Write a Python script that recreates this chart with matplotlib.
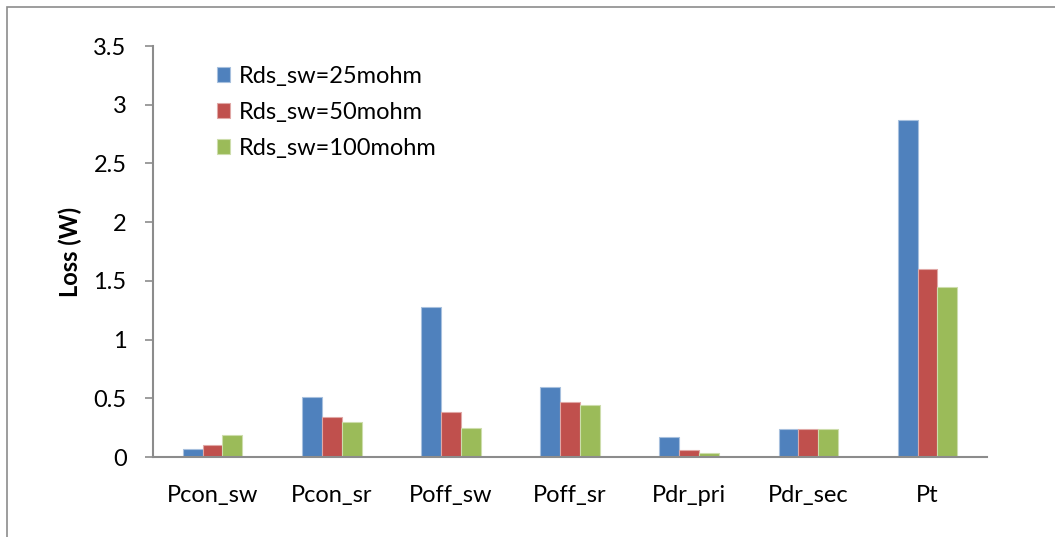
import matplotlib
matplotlib.use("Agg")
import matplotlib.pyplot as plt
import numpy as np

categories = ["Pcon_sw", "Pcon_sr", "Poff_sw", "Poff_sr", "Pdr_pri", "Pdr_sec", "Pt"]
series_names = ["Rds_sw=25mohm", "Rds_sw=50mohm", "Rds_sw=100mohm"]
loss_25 = [0.07, 0.51, 1.28, 0.60, 0.17, 0.24, 2.87]
loss_50 = [0.10, 0.34, 0.38, 0.47, 0.06, 0.24, 1.60]
loss_100 = [0.19, 0.30, 0.25, 0.44, 0.03, 0.24, 1.45]
yticks = [0, 0.5, 1, 1.5, 2, 2.5, 3, 3.5]
ytick_labels = ["0", "0.5", "1", "1.5", "2", "2.5", "3", "3.5"]

colors = ["#4F81BD", "#C0504D", "#9BBB59"]
edges = ["#A7C0DE", "#E0A8A6", "#CDDDAC"]

plt.rcParams["font.family"] = ["Lato", "DejaVu Sans"]
fs = 17

fig = plt.figure(figsize=(10.55, 5.37), dpi=100)
# outer chart border
fig.patches.append(plt.Rectangle((7 / 1055, -0.1), 1.2, (537 - 7) / 537 + 0.1,
                                 transform=fig.transFigure, fill=False,
                                 edgecolor="#8C8C8C", lw=1.2))
ax = fig.add_axes([153 / 1055, 80 / 537, 834 / 1055, 411 / 537])

x = np.arange(len(categories))
w = 1 / 6
for i, vals in enumerate([loss_25, loss_50, loss_100]):
    ax.bar(x + (i - 1) * w, vals, w, color=colors[i], edgecolor=edges[i],
           linewidth=0.8, label=series_names[i], zorder=2)

ax.set_xlim(-0.5, len(categories) - 0.5)
ax.set_ylim(0, 3.5)
ax.set_yticks(yticks)
ax.set_yticklabels(ytick_labels, fontsize=fs)
ax.set_xticks(x)
ax.set_xticklabels(categories, fontsize=fs)
ax.tick_params(axis="x", length=0, pad=20)
ax.tick_params(axis="y", length=6, color="#8C8C8C", width=1.2, pad=13)
for s in ["top", "right"]:
    ax.spines[s].set_visible(False)
for s in ["left", "bottom"]:
    ax.spines[s].set_color("#8C8C8C")
    ax.spines[s].set_linewidth(1.5)
ax.set_ylabel("Loss (W)", fontsize=fs, fontweight="bold", labelpad=8)

ax.legend(loc="upper left", bbox_to_anchor=(0.063, 0.98), frameon=False,
          fontsize=fs, handlelength=0.55, handleheight=0.6, handletextpad=0.35,
          labelspacing=0.64, borderpad=0)

fig.savefig("out.png", dpi=100)
